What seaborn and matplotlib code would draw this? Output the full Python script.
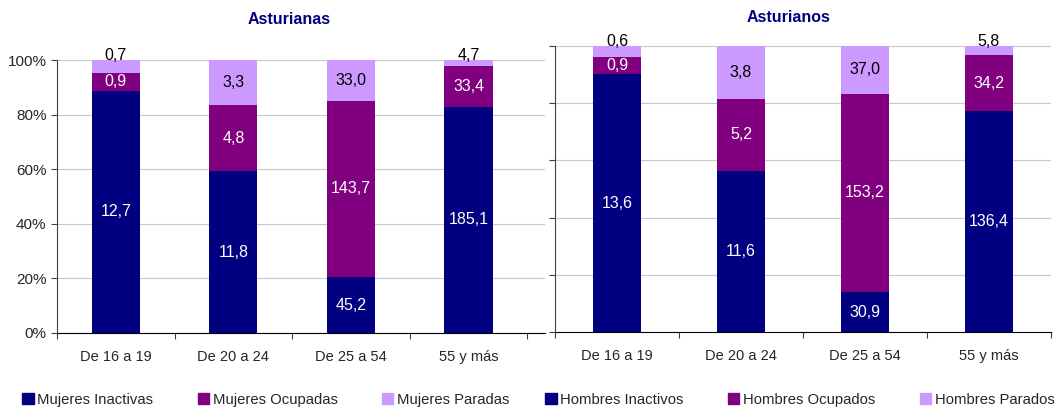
import pandas as pd
import matplotlib.pyplot as plt
import seaborn as sns
from matplotlib.patches import Patch


grupos = ['De 16 a 19', 'De 20 a 24', 'De 25 a 54', '55 y más']

mujeres_inactivas = [12.7, 11.8, 45.2, 185.1]
mujeres_ocupadas = [0.9, 4.8, 143.7, 33.4]
mujeres_paradas = [0.7, 3.3, 33.0, 4.7]

hombres_inactivos = [13.6, 11.6, 30.9, 136.4]
hombres_ocupados = [0.9, 5.2, 153.2, 34.2]
hombres_parados = [0.6, 3.8, 37.0, 5.8]

colores = ['#000080', '#800080', '#CC99FF']
color_texto = ['white', 'white', 'black']

sns.set_style('white')
plt.rcParams['font.family'] = ['Liberation Sans', 'DejaVu Sans']
plt.rcParams['font.size'] = 10.5


def tabla(series, nombres):
    filas = []
    for nombre, valores in zip(nombres, series):
        for g, v in zip(grupos, valores):
            filas.append({'grupo': g, 'tipo': nombre, 'valor': v})
    df = pd.DataFrame(filas)
    df['total'] = df.groupby('grupo')['valor'].transform('sum')
    df['pct'] = df['valor'] / df['total']
    df['base'] = df.groupby('grupo')['pct'].cumsum() - df['pct']
    return df


def panel(ax, df, nombres, ancho, etiquetas_y):
    for i, nombre in enumerate(nombres):
        sub = df[df['tipo'] == nombre]
        sns.barplot(data=sub, x='grupo', y='pct', order=grupos, color=colores[i],
                    bottom=sub['base'].values, width=ancho, errorbar=None,
                    saturation=1, linewidth=0, edgecolor='none', ax=ax)
        for j, (_, fila) in enumerate(sub.iterrows()):
            y = fila['base'] + fila['pct'] / 2
            if i == 2 and fila['pct'] < 0.06:
                y = 1.015
            texto = f"{fila['valor']:.1f}".replace('.', ',')
            ax.text(j, y, texto, ha='center', va='center', color=color_texto[i], fontsize=11.5)

    ax.set_ylim(0, 1)
    ax.set_yticks([0, 0.2, 0.4, 0.6, 0.8, 1.0])
    if etiquetas_y:
        ax.set_yticklabels(['0%', '20%', '40%', '60%', '80%', '100%'])
    else:
        ax.set_yticklabels([])
    ax.yaxis.grid(True, color='#c8c8c8', linewidth=0.8)
    ax.set_axisbelow(True)

    # etiquetas centradas, marcas entre categorias
    ax.set_xticks([-0.5, 0.5, 1.5, 2.5, 3.5])
    ax.set_xticklabels([])
    ax.set_xticks(range(len(grupos)), minor=True)
    ax.set_xticklabels(grupos, minor=True)
    ax.tick_params(axis='x', which='major', length=4, direction='out', bottom=True, color='#404040')
    ax.tick_params(axis='x', which='minor', length=0, pad=12)
    ax.tick_params(axis='y', length=4, direction='out', left=True, color='#404040', labelsize=11)
    ax.set_xlabel('')
    ax.set_ylabel('')
    for lado in ['top', 'right']:
        ax.spines[lado].set_visible(False)
    ax.spines['left'].set_color('#404040')
    ax.spines['bottom'].set_color('black')


fig = plt.figure(figsize=(10.57, 4.12), dpi=100)
ax1 = fig.add_axes([57 / 1057, 1 - 333 / 412, 488 / 1057, 273 / 412])
ax2 = fig.add_axes([555 / 1057, 1 - 332 / 412, 496 / 1057, 286 / 412])

nombres_m = ['Mujeres Inactivas', 'Mujeres Ocupadas', 'Mujeres Paradas']
nombres_h = ['Hombres Inactivos', 'Hombres Ocupados', 'Hombres Parados']

panel(ax1, tabla([mujeres_inactivas, mujeres_ocupadas, mujeres_paradas], nombres_m),
      nombres_m, 0.41, True)
ax1.set_xlim(-0.5, 3.65)
panel(ax2, tabla([hombres_inactivos, hombres_ocupados, hombres_parados], nombres_h),
      nombres_h, 0.39, False)
ax2.set_xlim(-0.5, 3.5)

fig.text(289 / 1057, 1 - 20 / 412, 'Asturianas', ha='center', va='center',
         fontweight='bold', color='#000080', fontsize=11.5)
fig.text(789 / 1057, 1 - 18 / 412, 'Asturianos', ha='center', va='center',
         fontweight='bold', color='#000080', fontsize=11.5)

for nombres, x0 in [(nombres_m, 9), (nombres_h, 532)]:
    handles = [Patch(color=c, label=n) for c, n in zip(colores, nombres)]
    fig.legend(handles=handles, loc='center left', bbox_to_anchor=(x0 / 1057, 1 - 400 / 412),
               ncol=3, frameon=False, handlelength=0.75, handleheight=0.75,
               handletextpad=0.25, columnspacing=3.0, fontsize=10.7)

plt.savefig('out.png', dpi=100)
